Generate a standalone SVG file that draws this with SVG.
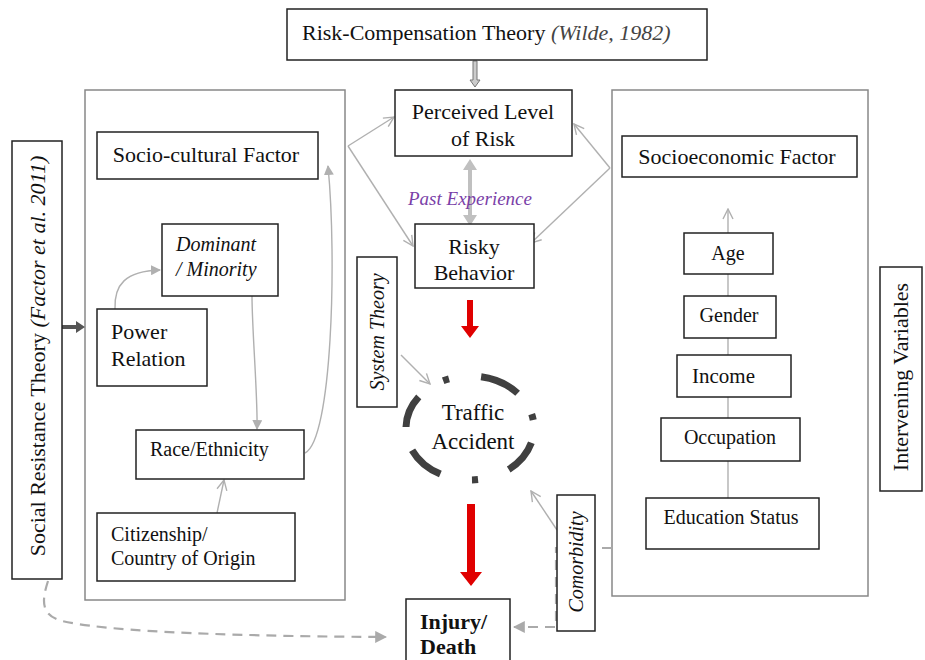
<svg xmlns="http://www.w3.org/2000/svg" width="925" height="660" viewBox="0 0 925 660" font-family="'Liberation Serif', 'DejaVu Serif', 'Times New Roman', serif">
<style>
text{font-family:'Liberation Serif','DejaVu Serif','Times New Roman',serif;fill:#111;}
.box{fill:#fff;stroke:#222;stroke-width:1.5;}
.cont{fill:none;stroke:#888;stroke-width:1.5;}
.con{fill:none;stroke:#b0b0b0;stroke-width:1.4;}
.dash{fill:none;stroke:#aaa;stroke-width:2.2;stroke-dasharray:10 7;}
.t22{font-size:22px;}
.t20{font-size:20px;}
.it{font-style:italic;}
</style>
<defs>
<marker id="open" viewBox="0 0 12 12" refX="11" refY="6" markerWidth="12" markerHeight="12" markerUnits="userSpaceOnUse" orient="auto">
<path d="M1,1 L11,6 L1,11" fill="none" stroke="#b0b0b0" stroke-width="1.4"/>
</marker>
<marker id="fill" viewBox="0 0 10 10" refX="9" refY="5" markerWidth="10" markerHeight="10" markerUnits="userSpaceOnUse" orient="auto">
<path d="M0,0 L10,5 L0,10 Z" fill="#b0b0b0"/>
</marker>
<marker id="dfill" viewBox="0 0 10 10" refX="9" refY="5" markerWidth="12" markerHeight="12" markerUnits="userSpaceOnUse" orient="auto">
<path d="M0,0 L10,5 L0,10 Z" fill="#aaa"/>
</marker>
</defs>

<!-- containers -->
<rect class="cont" x="85" y="90" width="260" height="510"/>
<rect class="cont" x="612" y="90" width="256" height="506"/>

<g id="connectors">
<path d="M473,61 L473,80 L470,80 L475,87 L480,80 L477,80 L477,61 Z" fill="#ccc" stroke="#777" stroke-width="1"/>
<path class="con" d="M348,146 L394,117" marker-end="url(#open)"/>
<path class="con" d="M348,146 L413,246" marker-end="url(#open)"/>
<path class="con" d="M610,168 L574,124" marker-end="url(#open)"/>
<path class="con" d="M610,168 L531,243" marker-end="url(#open)"/>
<path d="M470,159 L463,170 L468,170 L468,215 L463,215 L470,226 L477,215 L472,215 L472,170 L477,170 Z" fill="#c0c0c0"/>
<path d="M467,300 L467,326 L461,326 L470,338 L479,326 L473,326 L473,300 Z" fill="#e00000"/>
<path d="M467,504 L467,572 L460,572 L471,586 L482,572 L475,572 L475,504 Z" fill="#e00000"/>
<path class="con" d="M401,355 L430,384" marker-end="url(#open)"/>
<path class="con" d="M557,530 L531,491" marker-end="url(#open)"/>
<path class="dash" d="M612,548 L556,548 L556,627 L514,627" marker-end="url(#dfill)"/>
<path class="dash" d="M48,581 C42,600 40,615 62,621 C100,630 200,636 386,637" marker-end="url(#dfill)"/>
<path d="M62,325 L76,325 L76,321 L85,327 L76,333 L76,329 L62,329 Z" fill="#555"/>
<path class="con" d="M115,309 C114,285 125,271 160,270" marker-end="url(#fill)"/>
<path class="con" d="M252,296 C252,330 258,400 257,429" marker-end="url(#fill)"/>
<path class="con" d="M305,453 C332,440 337,260 328,166" marker-end="url(#fill)"/>
<path class="con" d="M217,513 L224,480" marker-end="url(#open)"/>
<path class="con" d="M728,498 L728,209" marker-end="url(#open)"/>
</g>

<g id="risk-comp">
<rect class="box" x="287" y="9" width="420" height="51"/>
<text x="302" y="40" class="t22">Risk-Compensation Theory <tspan class="it" fill="#444">(Wilde, 1982)</tspan></text>
</g>

<g id="perceived">
<rect class="box" x="395" y="90" width="177" height="66"/>
<text x="483" y="119" class="t22" text-anchor="middle">Perceived Level</text>
<text x="483" y="146" class="t22" text-anchor="middle">of Risk</text>
</g>

<g id="past-exp">
<text x="470" y="205" font-size="19" class="it" style="fill:#7a3fa8" text-anchor="middle">Past Experience</text>
</g>

<g id="risky">
<rect class="box" x="415" y="224" width="119" height="64"/>
<text x="474" y="254" class="t22" text-anchor="middle">Risky</text>
<text x="474" y="280" class="t22" text-anchor="middle">Behavior</text>
</g>

<g id="traffic">
<ellipse cx="470" cy="428" rx="64" ry="52" fill="none" stroke="#404040" stroke-width="7" pathLength="360" stroke-dasharray="0 15 35 32 6 32 37 24 33 29 6 32 40 25 6 8"/>
<text x="473" y="420" font-size="23" text-anchor="middle">Traffic</text>
<text x="473" y="449" font-size="23" text-anchor="middle">Accident</text>
</g>

<g id="injury">
<rect class="box" x="406" y="599" width="104" height="70"/>
<text x="420" y="629" class="t22" font-weight="bold">Injury/</text>
<text x="420" y="654" class="t22" font-weight="bold">Death</text>
</g>

<g id="system-theory">
<rect class="box" x="357" y="257" width="40" height="150"/>
<text transform="translate(384,332) rotate(-90)" class="t20 it" text-anchor="middle">System Theory</text>
</g>

<g id="comorbidity">
<rect class="box" x="557" y="495" width="38" height="136"/>
<text transform="translate(583,562) rotate(-90)" class="t20 it" text-anchor="middle">Comorbidity</text>
</g>

<g id="social-resistance">
<rect class="box" x="12" y="141" width="50" height="438"/>
<text transform="translate(45,356) rotate(-90)" class="t22" text-anchor="middle">Social Resistance Theory <tspan class="it">(Factor et al. 2011)</tspan></text>
</g>

<g id="socio-cultural">
<rect class="box" x="97" y="132" width="221" height="47"/>
<text x="206" y="162" class="t22" text-anchor="middle">Socio-cultural Factor</text>
</g>

<g id="dominant">
<rect class="box" x="162" y="224" width="116" height="72"/>
<text x="176" y="251" class="t20 it">Dominant</text>
<text x="176" y="276" class="t20 it">/ Minority</text>
</g>

<g id="power">
<rect class="box" x="97" y="309" width="110" height="77"/>
<text x="111" y="339" class="t22">Power</text>
<text x="111" y="366" class="t22">Relation</text>
</g>

<g id="race">
<rect class="box" x="136" y="430" width="168" height="49"/>
<text x="150" y="456" class="t20">Race/Ethnicity</text>
</g>

<g id="citizenship">
<rect class="box" x="97" y="513" width="198" height="68"/>
<text x="111" y="541" class="t20">Citizenship/</text>
<text x="111" y="565" class="t20">Country of Origin</text>
</g>

<g id="socioeconomic">
<rect class="box" x="622" y="136" width="235" height="41"/>
<text x="737" y="164" class="t22" text-anchor="middle">Socioeconomic Factor</text>
</g>

<g id="age">
<rect class="box" x="684" y="233" width="89" height="41"/>
<text x="728" y="260" class="t20" text-anchor="middle">Age</text>
</g>

<g id="gender">
<rect class="box" x="684" y="296" width="92" height="42"/>
<text x="729" y="322" class="t20" text-anchor="middle">Gender</text>
</g>

<g id="income">
<rect class="box" x="677" y="355" width="114" height="42"/>
<text x="692" y="383" font-size="21">Income</text>
</g>

<g id="occupation">
<rect class="box" x="661" y="418" width="139" height="43"/>
<text x="730" y="444" class="t20" text-anchor="middle">Occupation</text>
</g>

<g id="education">
<rect class="box" x="646" y="498" width="173" height="51"/>
<text x="731" y="524" class="t20" text-anchor="middle">Education Status</text>
</g>

<g id="intervening">
<rect class="box" x="880" y="267" width="42" height="224"/>
<text transform="translate(908,377) rotate(-90)" class="t22" text-anchor="middle">Intervening Variables</text>
</g>
</svg>
